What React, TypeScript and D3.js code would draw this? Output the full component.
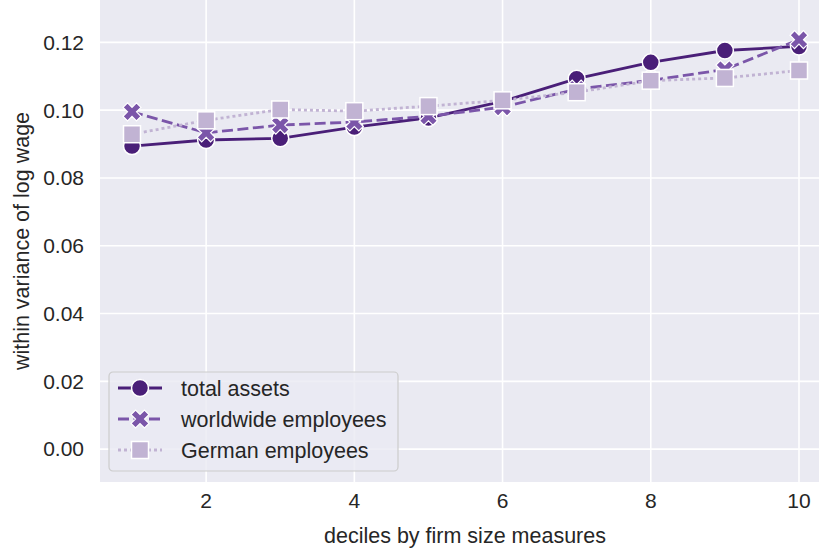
import React, { useEffect, useRef } from 'react';
import * as d3 from 'd3';

const deciles = [1, 2, 3, 4, 5, 6, 7, 8, 9, 10];
const totalAssets = [0.0894, 0.0912, 0.0917, 0.0950, 0.0977, 0.1026, 0.1093, 0.1141, 0.1176, 0.1188];
const worldwideEmployees = [0.0995, 0.0933, 0.0956, 0.0965, 0.0982, 0.1009, 0.1062, 0.1088, 0.1120, 0.1208];
const germanEmployees = [0.0929, 0.0970, 0.1002, 0.0997, 0.1012, 0.1029, 0.1053, 0.1087, 0.1095, 0.1117];
const xTicks = [2, 4, 6, 8, 10];
const yTicks = [0, 0.02, 0.04, 0.06, 0.08, 0.1, 0.12];

const series = [
  { name: 'total assets', values: totalAssets, color: '#4a1f78', dash: null, marker: 'circle' },
  { name: 'worldwide employees', values: worldwideEmployees, color: '#7b56a9', dash: '11,4.5', marker: 'x' },
  { name: 'German employees', values: germanEmployees, color: '#c1b3d3', dash: '3,3', marker: 'square' },
];

// filled "X" like matplotlib's marker: a plus rotated by 45 degrees
const xPath = (a: number, w: number) => {
  const pts = [
    [w, -a], [w, -w], [a, -w], [a, w], [w, w], [w, a],
    [-w, a], [-w, w], [-a, w], [-a, -w], [-w, -w], [-w, -a],
  ];
  const c = Math.SQRT1_2;
  return 'M' + pts.map(([px, py]) => [(px - py) * c, (px + py) * c].map(v => v.toFixed(2)).join(',')).join('L') + 'Z';
};

const drawMarker = (g: any, type: string, color: string, x: number, y: number) => {
  if (type === 'circle') {
    g.append('circle').attr('cx', x).attr('cy', y).attr('r', 8.5)
      .attr('fill', color).attr('stroke', '#fff').attr('stroke-width', 1.5);
  } else if (type === 'square') {
    g.append('rect').attr('x', x - 8.5).attr('y', y - 8.5).attr('width', 17).attr('height', 17)
      .attr('fill', color).attr('stroke', '#fff').attr('stroke-width', 1.5);
  } else {
    g.append('path').attr('d', xPath(9.5, 3.2)).attr('transform', `translate(${x},${y})`)
      .attr('fill', color).attr('stroke', '#fff').attr('stroke-width', 1.2);
  }
};

const App = () => {
  const svgRef = useRef(null);

  useEffect(() => {
    const left = 100, right = 819, top = 0, bottom = 482;
    const font = 'Liberation Sans, Arial, sans-serif';

    const svg = d3.select(svgRef.current);
    svg.selectAll('*').remove();

    const x = d3.scaleLinear().domain([0.568, 10.27]).range([left, right]);
    const y = d3.scaleLinear().domain([-0.0097, 0.1325]).range([bottom, top]);

    svg.append('rect').attr('x', left).attr('y', top)
      .attr('width', right - left).attr('height', bottom - top).attr('fill', '#eaeaf2');

    const grid = svg.append('g');
    xTicks.forEach(t => {
      grid.append('line').attr('x1', x(t)).attr('x2', x(t)).attr('y1', top).attr('y2', bottom)
        .attr('stroke', '#fff').attr('stroke-width', 1.6);
    });
    yTicks.forEach(t => {
      grid.append('line').attr('x1', left).attr('x2', right).attr('y1', y(t)).attr('y2', y(t))
        .attr('stroke', '#fff').attr('stroke-width', 1.6);
    });

    const ticks = svg.append('g').attr('font-family', font).attr('font-size', 21).attr('fill', '#262626');
    xTicks.forEach(t => {
      ticks.append('text').attr('x', x(t)).attr('y', bottom + 26).attr('text-anchor', 'middle').text(t);
    });
    yTicks.forEach(t => {
      ticks.append('text').attr('x', left - 16).attr('y', y(t)).attr('dy', '0.35em')
        .attr('text-anchor', 'end').text(d3.format('.2f')(t));
    });

    svg.append('text').attr('x', 465).attr('y', 543)
      .attr('text-anchor', 'middle').attr('font-family', font).attr('font-size', 21.5)
      .attr('fill', '#262626').text('deciles by firm size measures');
    svg.append('text').attr('transform', `translate(29,${(top + bottom) / 2}) rotate(-90)`)
      .attr('text-anchor', 'middle').attr('font-family', font).attr('font-size', 21.5)
      .attr('fill', '#262626').text('within variance of log wage');

    const line = d3.line<number>().x((d, i) => x(deciles[i])).y(d => y(d));
    const plot = svg.append('g');
    series.forEach(s => {
      plot.append('path').attr('d', line(s.values)).attr('fill', 'none')
        .attr('stroke', s.color).attr('stroke-width', 2.8)
        .attr('stroke-dasharray', s.dash);
      s.values.forEach((v, i) => drawMarker(plot, s.marker, s.color, x(deciles[i]), y(v)));
    });

    const lg = svg.append('g').attr('transform', 'translate(109,372)');
    lg.append('rect').attr('width', 289).attr('height', 99).attr('rx', 4)
      .attr('fill', '#eaeaf2').attr('fill-opacity', 0.8).attr('stroke', '#cccccc').attr('stroke-width', 1.2);
    series.forEach((s, i) => {
      const yy = 16 + i * 31;
      lg.append('line').attr('x1', 9).attr('x2', 53).attr('y1', yy).attr('y2', yy)
        .attr('stroke', s.color).attr('stroke-width', 2.8).attr('stroke-dasharray', s.dash);
      drawMarker(lg, s.marker, s.color, 31, yy);
      lg.append('text').attr('x', 72).attr('y', yy).attr('dy', '0.35em')
        .attr('font-family', font).attr('font-size', 21.5).attr('fill', '#262626').text(s.name);
    });
  }, []);

  return <svg ref={svgRef} width={819} height={550}
    style={{ position: 'absolute', left: 0, top: 0, background: '#fff' }}></svg>;
};

export default App;
